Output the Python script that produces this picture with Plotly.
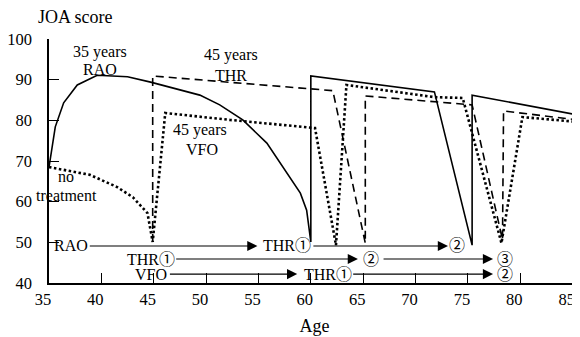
import plotly.graph_objects as go

FONT = "Liberation Serif, Times New Roman, Noto Sans CJK JP, serif"
INK = "black"

# RAO at 35 years, THR afterwards (solid)
rao_age = [35.0, 35.6, 36.4, 37.7, 39.6, 42.5, 44.7, 49.4, 51.3, 53.5, 55.8, 57.3, 59.0, 59.6, 60.0,
           60.0, 71.8, 75.4, 75.4, 85.5]
rao_score = [68.5, 78.4, 84.3, 88.7, 91.1, 90.7, 89.4, 86.2, 83.8, 80.1, 74.4, 68.5, 62.1, 57.9, 50.1,
             90.9, 87.0, 49.3, 86.2, 81.3]

# THR at 45 years (dashed)
thr_age = [44.9, 44.9, 62.1, 65.2, 65.2, 72.0, 75.4, 78.3, 78.4, 85.5]
thr_score = [50.1, 90.9, 87.3, 49.8, 86.0, 84.5, 83.8, 50.6, 82.3, 80.1]

# no treatment, then VFO at 45 years (dotted)
vfo_age = [35.0, 38.9, 41.5, 43.0, 44.4, 44.9, 46.1, 52.3, 60.4, 62.4, 63.4, 71.8, 74.5, 78.2, 80.2, 85.5]
vfo_score = [68.5, 66.6, 63.6, 61.1, 57.2, 50.1, 81.8, 80.1, 78.1, 49.3, 88.7, 85.7, 85.5, 49.8, 80.8, 79.6]

# treatment timeline arrows: (row level, start age, end age)
arrow_rows = [49.1, 49.1, 45.9, 45.9, 42.2, 42.2]
arrow_start = [38.75, 60.1, 47.0, 66.8, 46.4, 63.9]
arrow_end = [54.9, 73.1, 64.5, 77.4, 58.7, 77.4]

# timeline labels
timeline_text = ["RAO", "THR①", "②", "THR①", "②", "③", "VFO", "THR①", "②"]
timeline_age = [37.1, 57.7, 74.0, 44.7, 65.7, 78.5, 44.7, 61.6, 78.5]
timeline_row = [49.1, 49.1, 49.1, 45.9, 45.9, 45.9, 42.2, 42.2, 42.2]

# curve captions
caption_text = ["35 years", "RAO", "45 years", "THR", "45 years", "VFO", "no", "treatment"]
caption_age = [39.85, 39.9, 52.4, 52.4, 49.4, 49.6, 36.65, 36.65]
caption_score = [96.8, 92.4, 96.1, 91.1, 77.6, 72.9, 66.3, 61.6]

x_ticks = [35, 40, 45, 50, 55, 60, 65, 70, 75, 80, 85]
y_ticks = [40, 50, 60, 70, 80, 90, 100]

fig = go.Figure()
fig.add_trace(go.Scatter(x=rao_age, y=rao_score, mode="lines", line=dict(color=INK, width=1.6)))
fig.add_trace(go.Scatter(x=thr_age, y=thr_score, mode="lines", line=dict(color=INK, width=1.6, dash="8px,5px")))
fig.add_trace(go.Scatter(x=vfo_age, y=vfo_score, mode="lines", line=dict(color=INK, width=2.6, dash="2.5px,2.5px")))

for row, start, end in zip(arrow_rows, arrow_start, arrow_end):
    fig.add_annotation(
        x=end, y=row, ax=start, ay=row, xref="x", yref="y", axref="x", ayref="y",
        text="", showarrow=True, arrowhead=2, arrowsize=1.7, arrowwidth=1.2, arrowcolor=INK,
        standoff=0, startstandoff=0,
    )

for text, age, row in zip(timeline_text, timeline_age, timeline_row):
    fig.add_annotation(x=age, y=row, text=text, showarrow=False, xanchor="center", yanchor="middle",
                       font=dict(family=FONT, size=16, color=INK))

for text, age, score in zip(caption_text, caption_age, caption_score):
    fig.add_annotation(x=age, y=score, text=text, showarrow=False, xanchor="center", yanchor="middle",
                       font=dict(family=FONT, size=16, color=INK))

fig.add_annotation(x=0.0495, y=1.09, xref="paper", yref="paper", text="JOA score", showarrow=False,
                   xanchor="center", yanchor="middle", font=dict(family=FONT, size=18, color=INK))

fig.update_xaxes(
    range=[35, 85.7], tickvals=x_ticks, ticks="inside", ticklen=10, tickwidth=1.2, tickcolor=INK,
    showline=True, linecolor=INK, linewidth=1.5, showgrid=False, zeroline=False,
    tickfont=dict(family=FONT, size=16.5, color=INK), ticklabelstandoff=0, ticklabelshift=-6,
    ticklabeloverflow="allow",
    title=dict(text="Age", font=dict(family=FONT, size=18, color=INK), standoff=12),
    automargin=False,
)
fig.update_yaxes(
    range=[40, 100], tickvals=y_ticks, ticks="inside", ticklen=10, tickwidth=1.2, tickcolor=INK,
    showline=True, linecolor=INK, linewidth=1.5, showgrid=False, zeroline=False,
    tickfont=dict(family=FONT, size=16.5, color=INK), ticklabelstandoff=12,
    automargin=False,
)
# page body adds an 8px offset, so the figure is 8px smaller and shifted margins
fig.update_layout(
    width=572, height=329, showlegend=False,
    paper_bgcolor="white", plot_bgcolor="white",
    margin=dict(l=41, r=0, t=31, b=54),
)
fig.write_html("out.html")
